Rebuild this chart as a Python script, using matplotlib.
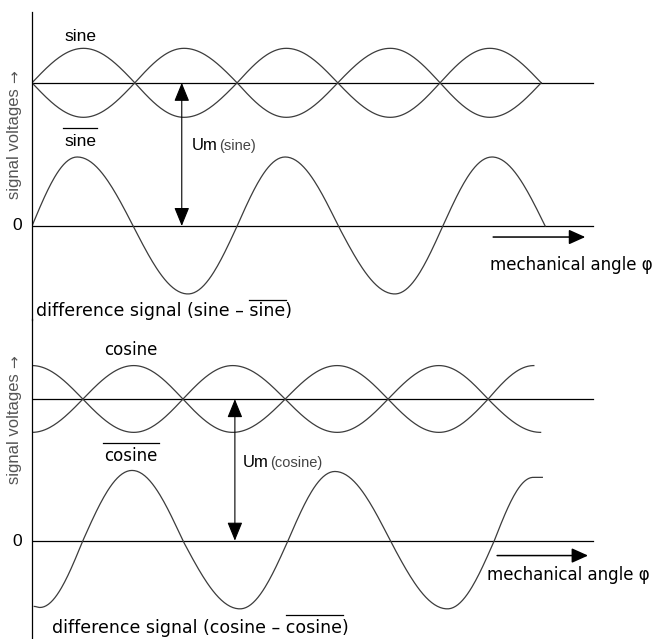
import numpy as np
import matplotlib
matplotlib.use("Agg")
import matplotlib.pyplot as plt
from matplotlib.patches import FancyArrowPatch, ArrowStyle
from matplotlib.lines import Line2D
from matplotlib.transforms import Affine2D

# ---------------- data (angle in degrees, voltage in units of signal amplitude) ----------
UM_SINE = 4.15      # offset of sine / sine-bar signals
UM_COS = 4.09       # offset of cosine / cosine-bar signals

SINE_X = [0, 91, 182, 269, 363, 450, 541, 634, 722, 810, 901]
SINE_Y = [0, 1.0, 0, -1.0, 0, 1.0, 0, -1.0, 0, 1.0, 0]
SINE_BAR_Y = [0, -1.0, 0, 1.0, 0, -1.0, 0, 1.0, 0, -1.0, 0]

DIFF_SINE_X = [0, 80, 179, 276, 363, 448, 542, 642, 727, 814, 908]
DIFF_SINE_Y = [0, 2.0, 0, -1.97, 0, 2.0, 0, -1.97, 0, 2.0, 0]

COS_X = [0, 90, 180, 267, 355, 448, 540, 630, 720, 807, 900]
COS_Y = [0.97, 0, -0.96, 0, 0.97, 0, -0.96, 0, 0.97, 0, -0.96]
COS_BAR_X = [0, 90, 180, 267, 355, 448, 540, 630, 720, 807, 888]
COS_BAR_Y = [-0.96, 0, 0.97, 0, -0.96, 0, 0.97, 0, -0.96, 0, 0.97]

DIFF_COS_X = [4, 14, 90, 177, 267, 368, 453, 536, 634, 735, 818, 887, 903]
DIFF_COS_Y = [-1.9, -1.93, 0, 2.03, 0, -1.97, 0, 2.0, 0, -1.97, 0, 1.83, 1.83]

AXIS_END = 993          # end of horizontal reference lines (deg)
UM_SINE_AT = 265        # angle where Um(sine) arrow is drawn
UM_COS_AT = 359
PHI_ARROW_TOP = (816, 979, -0.32)
PHI_ARROW_BOT = (823, 984, -0.43)

ARIAL = ["Liberation Sans", "DejaVu Sans"]
VERD = ["DejaVu Sans"]
CURVE_C = "#3c3c3c"


def sine_path(xs, ys, n=40):
    """Draw through read extrema / zero crossings with sinusoidal segments."""
    X, Y = [], []
    for i in range(len(xs) - 1):
        x0, x1, y0, y1 = xs[i], xs[i + 1], ys[i], ys[i + 1]
        t = np.linspace(0, 1, n, endpoint=(i == len(xs) - 2))
        if y0 == 0 and y1 != 0:
            s = y1 * np.sin(np.pi * t / 2)
        elif y0 != 0 and y1 == 0:
            s = y0 * np.cos(np.pi * t / 2)
        elif y0 != 0 and y1 != 0:
            s = y0 + (y1 - y0) * (1 - np.cos(np.pi * t)) / 2
        else:
            s = np.zeros_like(t)
        X.append(x0 + (x1 - x0) * t)
        Y.append(s)
    return np.concatenate(X), np.concatenate(Y)


W, H = 661, 639
fig = plt.figure(figsize=(W / 100, H / 100), dpi=100)
fig.patch.set_facecolor("white")
# reference-pixel transform (y downward) for labels
P = Affine2D().scale(1, -1).translate(0, H)

ax_t = fig.add_axes([32 / W, 1 - 320 / H, (W - 32) / W, 308 / H])
ax_b = fig.add_axes([32 / W, 0, (W - 32) / W, 320 / H])
for ax in (ax_t, ax_b):
    ax.set_facecolor("none")
    for s in ("top", "right", "bottom"):
        ax.spines[s].set_visible(False)
    ax.spines["left"].set_color("black")
    ax.spines["left"].set_linewidth(0.9)
    ax.set_xticks([])
    ax.set_yticks([])
    ax.set_xlim(0, 1113)
ax_t.set_ylim(-2.725, 6.203)
ax_b.set_ylim(-2.841, 6.406)


def um_arrow(ax, x, um):
    ax.add_patch(FancyArrowPatch((x, 0), (x, um),
                                 arrowstyle=ArrowStyle("<|-|>", head_length=11.5, head_width=4.7),
                                 mutation_scale=1, color="black", lw=0.8,
                                 shrinkA=0, shrinkB=0, zorder=5))


def phi_arrow(ax, spec):
    x0, x1, y = spec
    ax.add_patch(FancyArrowPatch((x0, y), (x1, y),
                                 arrowstyle=ArrowStyle("-|>", head_length=10, head_width=4.5),
                                 mutation_scale=1, color="black", lw=1.1,
                                 shrinkA=0, shrinkB=0, zorder=5))


# ---- top panel ----
ax_t.plot([0, AXIS_END], [UM_SINE, UM_SINE], color="black", lw=0.9)
ax_t.plot([0, AXIS_END], [0, 0], color="black", lw=0.9)
x, y = sine_path(SINE_X, SINE_Y)
ax_t.plot(x, y + UM_SINE, color=CURVE_C, lw=0.9)
x, y = sine_path(SINE_X, SINE_BAR_Y)
ax_t.plot(x, y + UM_SINE, color=CURVE_C, lw=0.9)
x, y = sine_path(DIFF_SINE_X, DIFF_SINE_Y)
ax_t.plot(x, y, color=CURVE_C, lw=0.9)
um_arrow(ax_t, UM_SINE_AT, UM_SINE)
phi_arrow(ax_t, PHI_ARROW_TOP)

# ---- bottom panel ----
ax_b.plot([0, AXIS_END], [UM_COS, UM_COS], color="black", lw=0.9)
ax_b.plot([0, AXIS_END], [0, 0], color="black", lw=0.9)
x, y = sine_path(COS_X, COS_Y)
ax_b.plot(x, y + UM_COS, color=CURVE_C, lw=0.9)
x, y = sine_path(COS_BAR_X, COS_BAR_Y)
ax_b.plot(x, y + UM_COS, color=CURVE_C, lw=0.9)
x, y = sine_path(DIFF_COS_X, DIFF_COS_Y)
ax_b.plot(x, y, color=CURVE_C, lw=0.9)
um_arrow(ax_b, UM_COS_AT, UM_COS)
phi_arrow(ax_b, PHI_ARROW_BOT)


def txt(x, y, s, fam, size, ha="left", va="baseline", color="black", **kw):
    return fig.text(x, y, s, transform=P, family=fam, fontsize=size,
                    ha=ha, va=va, color=color, **kw)


# labels
t_sine = txt(80, 41, "sine", ARIAL, 12.5, ha="center")
t_sbar = txt(80, 146, "sine", ARIAL, 12.5, ha="center")
t_cos = txt(131, 355, "cosine", VERD, 12, ha="center")
t_cbar = txt(131, 461, "cosine", VERD, 12, ha="center")

txt(17, 226, "0", ARIAL, 12.5, ha="center", va="center")
txt(17, 541, "0", ARIAL, 12.5, ha="center", va="center")
sv_top = txt(15, 199, "signal voltages", ARIAL, 12, ha="center", va="bottom",
             rotation=90, color="#555555")
sv_bot = txt(15, 484, "signal voltages", ARIAL, 12, ha="center", va="bottom",
             rotation=90, color="#555555")

txt(490, 270, "mechanical angle φ", VERD, 12)
txt(487, 580, "mechanical angle φ", VERD, 12)

d_top = txt(36, 316, "difference signal (sine – sine)", VERD, 12.5)
d_bot = txt(52, 633, "difference signal (cosine – cosine)", VERD, 12.5)

u_top = txt(192, 150, "Um", ARIAL, 12)
u_bot = txt(243, 467, "Um", ARIAL, 12)

fig.canvas.draw()
R = fig.canvas.get_renderer()

# arrow glyph after the rotated axis labels
for sv in (sv_top, sv_bot):
    bb = sv.get_window_extent(R)
    txt(15, H - bb.y1 - 5, "→", VERD, 11, ha="center", va="bottom",
        rotation=90, color="#555555")


def after(t, s, size, color):
    bb = t.get_window_extent(R)
    x_ref = bb.x1
    y_ref = H - t.get_transform().transform(t.get_position())[1]
    fig.text(x_ref + 1, y_ref, s, transform=P, family=ARIAL, fontsize=size,
             ha="left", va="baseline", color=color)


after(u_top, "(sine)", 10.5, "#444444")
after(u_bot, "(cosine)", 10.5, "#444444")


def overline(x0, x1, y):
    fig.add_artist(Line2D([x0, x1], [y, y], transform=P, color="black", lw=0.9))


for t, yo in ((t_sbar, 128), (t_cbar, 443)):
    bb = t.get_window_extent(R)
    overline(bb.x0 - 1, bb.x1 + 1, yo)


def width_of(s, size):
    tt = fig.text(0, 0, s, family=VERD, fontsize=size)
    w = tt.get_window_extent(R).width
    tt.remove()
    return w


for t, full, word, yo in ((d_top, "difference signal (sine – sine", "sine", 300),
                          (d_bot, "difference signal (cosine – cosine", "cosine", 615)):
    bb = t.get_window_extent(R)
    wfull = width_of(full, 12.5)
    wword = width_of(word, 12.5)
    overline(bb.x0 + wfull - wword, bb.x0 + wfull + 1, yo)

fig.savefig("out.png", dpi=100)
